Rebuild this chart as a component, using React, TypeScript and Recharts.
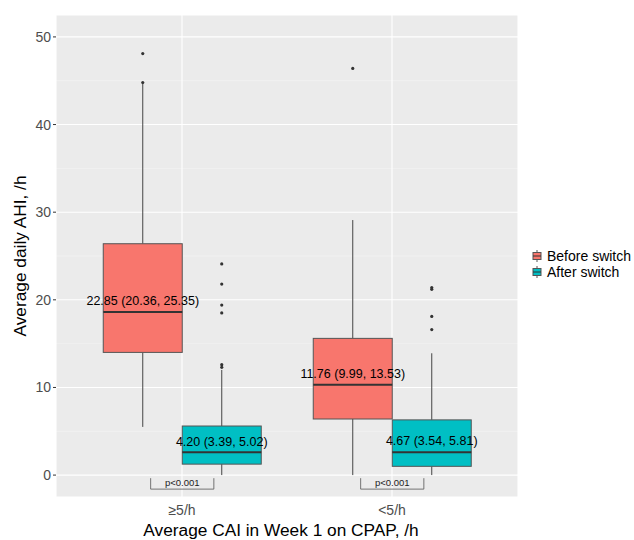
import { ComposedChart, Bar, XAxis, YAxis, CartesianGrid, Legend, Label } from "recharts";

const categories = ["≥5/h", "<5/h"];
const seriesNames = ["Before switch", "After switch"];
const seriesColors = ["#F8766D", "#00BFC4"];

// Before switch
const beforeLow = [5.5, 0];
const beforeQ1 = [14.0, 6.4];
const beforeMedian = [18.6, 10.3];
const beforeQ3 = [26.4, 15.6];
const beforeHigh = [44.8, 29.1];
const beforeOutliers = [[48.1, 44.8], [46.4]];
const beforeLabels = ["22.85 (20.36, 25.35)", "11.76 (9.99, 13.53)"];
const beforeLabelAt = [19.9, 11.5];

// After switch
const afterLow = [0, 0];
const afterQ1 = [1.25, 1.0];
const afterMedian = [2.6, 2.6];
const afterQ3 = [5.6, 6.3];
const afterHigh = [12.0, 13.9];
const afterOutliers = [
  [24.1, 21.8, 19.4, 18.5, 12.6, 12.3],
  [21.4, 21.2, 18.1, 16.6],
];
const afterLabels = ["4.20 (3.39, 5.02)", "4.67 (3.54, 5.81)"];
const afterLabelAt = [3.8, 3.9];

const pValues = ["p<0.001", "p<0.001"];
const yTicks = [0, 10, 20, 30, 40, 50];
const yMinor = [5, 15, 25, 35, 45];

const FONT = "'Liberation Sans', Arial, sans-serif";

const rows = categories.map((cat, i) => ({
  cat,
  before: [beforeQ1[i], beforeQ3[i]],
  after: [afterQ1[i], afterQ3[i]],
  pValue: pValues[i],
  stats: {
    before: {
      low: beforeLow[i], q1: beforeQ1[i], median: beforeMedian[i], q3: beforeQ3[i],
      high: beforeHigh[i], outliers: beforeOutliers[i], label: beforeLabels[i], labelAt: beforeLabelAt[i],
    },
    after: {
      low: afterLow[i], q1: afterQ1[i], median: afterMedian[i], q3: afterQ3[i],
      high: afterHigh[i], outliers: afterOutliers[i], label: afterLabels[i], labelAt: afterLabelAt[i],
    },
  },
}));

function BoxShape(props: any) {
  const { x, y, width, height, payload, series, fill } = props;
  const s = payload.stats[series];
  const top = Math.min(y, y + height);
  const h = Math.abs(height);
  const ppu = h / (s.q3 - s.q1);
  const yOf = (v: number) => top + (s.q3 - v) * ppu;
  const cx = x + width / 2;

  // p-value bracket sits under each pair, drawn with the "after" box
  let bracket = null;
  if (series === "after") {
    const unit = width / 0.375;
    const left = x - 0.15 * unit;
    const right = x + 0.15 * unit;
    const yTop = yOf(-0.35);
    const yBot = yOf(-1.6);
    bracket = (
      <g>
        <path
          d={`M${left},${yTop}L${left},${yBot}L${right},${yBot}L${right},${yTop}`}
          fill="none"
          stroke="#555"
          strokeWidth={0.8}
        />
        <text x={x} y={yOf(-0.9)} textAnchor="middle" dominantBaseline="central" fontSize={9.5} fontFamily={FONT} fill="#222">
          {payload.pValue}
        </text>
      </g>
    );
  }

  return (
    <g>
      <line x1={cx} x2={cx} y1={yOf(s.high)} y2={yOf(s.q3)} stroke="#444" strokeWidth={1} />
      <line x1={cx} x2={cx} y1={yOf(s.q1)} y2={yOf(s.low)} stroke="#444" strokeWidth={1} />
      <rect x={x} y={top} width={width} height={h} fill={fill} stroke="#555" strokeWidth={1} />
      <line x1={x} x2={x + width} y1={yOf(s.median)} y2={yOf(s.median)} stroke="#333" strokeWidth={2} />
      {s.outliers.map((v: number, k: number) => (
        <circle key={k} cx={cx} cy={yOf(v)} r={1.6} fill="#333" />
      ))}
      <text x={cx} y={yOf(s.labelAt)} textAnchor="middle" dominantBaseline="central" fontSize={12.5} fontFamily={FONT} fill="#000">
        {s.label}
      </text>
      {bracket}
    </g>
  );
}

function LegendContent() {
  return (
    <div style={{ fontFamily: FONT, fontSize: 14, color: "#000" }}>
      {seriesNames.map((name, i) => (
        <div key={name} style={{ display: "flex", alignItems: "center", height: 16 }}>
          <svg width={12} height={12} style={{ marginRight: 3 }}>
            <line x1={5} x2={5} y1={0} y2={12} stroke="#555" strokeWidth={1} />
            <rect x={1} y={2.5} width={8} height={7} fill={seriesColors[i]} stroke="#555" strokeWidth={1} />
            <line x1={1} x2={9} y1={6} y2={6} stroke="#333" strokeWidth={1} />
          </svg>
          <span>{name}</span>
        </div>
      ))}
    </div>
  );
}

function YTitle(props: any) {
  const vb = props.viewBox || { x: 0, y: 15, width: 56, height: 482 };
  const cx = vb.x + 20;
  const cy = vb.y + vb.height / 2;
  return (
    <text
      transform={`translate(${cx},${cy}) rotate(-90)`}
      textAnchor="middle"
      dominantBaseline="central"
      fontSize={17.3}
      fontFamily={FONT}
      fill="#000"
    >
      Average daily AHI, /h
    </text>
  );
}

function XTitle(props: any) {
  const vb = props.viewBox || { x: 56, y: 497, width: 462, height: 43 };
  return (
    <text
      x={vb.x + vb.width / 2 - 6}
      y={vb.y + 39}
      textAnchor="middle"
      fontSize={17.3}
      fontFamily={FONT}
      fill="#000"
    >
      Average CAI in Week 1 on CPAP, /h
    </text>
  );
}

export default function App() {
  return (
    <div style={{ position: "absolute", left: 0, top: 0, width: 634, height: 540, background: "#fff" }}>
      <ComposedChart
        width={634}
        height={540}
        data={rows}
        margin={{ top: 15, right: 116, bottom: 0, left: 0 }}
        barGap={0}
        barCategoryGap="12.5%"
      >
        <CartesianGrid
          fill="#EBEBEB"
          stroke="#F5F5F5"
          strokeWidth={0.6}
          vertical={false}
          horizontalValues={yMinor}
        />
        <CartesianGrid stroke="#FFFFFF" strokeWidth={1.1} />
        <XAxis
          dataKey="cat"
          padding={{ left: 21, right: 21 }}
          height={43}
          axisLine={false}
          tickLine={false}
          tickSize={0}
          tickMargin={8}
          tick={{ fill: "#4D4D4D", fontSize: 14, fontFamily: FONT }}
        >
          <Label content={(p: any) => <XTitle {...p} />} />
        </XAxis>
        <YAxis
          type="number"
          domain={[-2.5, 52.5]}
          allowDataOverflow
          ticks={yTicks}
          width={56}
          axisLine={false}
          tickSize={3}
          tickMargin={2}
          tickLine={{ stroke: "#333" }}
          tick={{ fill: "#4D4D4D", fontSize: 14, fontFamily: FONT }}
        >
          <Label content={(p: any) => <YTitle {...p} />} />
        </YAxis>
        <Legend
          layout="vertical"
          align="center"
          verticalAlign="middle"
          content={() => <LegendContent />}
          wrapperStyle={{ left: 532, top: 248, width: 102 }}
        />
        <Bar
          dataKey="before"
          name={seriesNames[0]}
          fill={seriesColors[0]}
          isAnimationActive={false}
          shape={(p: any) => <BoxShape {...p} series="before" fill={seriesColors[0]} />}
        />
        <Bar
          dataKey="after"
          name={seriesNames[1]}
          fill={seriesColors[1]}
          isAnimationActive={false}
          shape={(p: any) => <BoxShape {...p} series="after" fill={seriesColors[1]} />}
        />
      </ComposedChart>
    </div>
  );
}
